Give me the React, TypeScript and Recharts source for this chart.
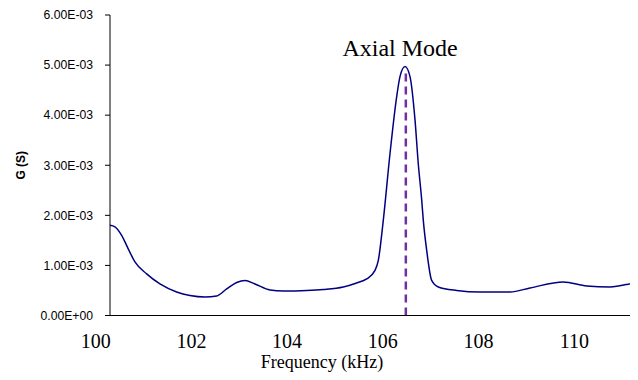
import React from 'react';
import { LineChart, Line, XAxis, YAxis, ReferenceLine, ReferenceDot } from 'recharts';

// Frequency (kHz) samples
const freqs = [
  100.3, 100.403, 100.543, 100.681, 100.821, 101.066, 101.343, 101.692, 101.97, 102.284,
  102.528, 102.737, 102.946, 103.12, 103.328, 103.642, 103.92, 104.409, 104.756, 105.173,
  105.453, 105.662, 105.836, 105.905, 106.009, 106.149, 106.289, 106.358, 106.463,
  106.567, 106.672, 106.74, 106.812, 106.845, 106.916, 107.02, 107.158, 107.543, 108.03,
  108.657, 109.075, 109.77, 110.259, 110.746, 111.095, 111.33,
];
// Conductance G (S)
const conductance = [
  1.8e-3, 1.77e-3, 1.6e-3, 1.33e-3, 1.07e-3, 0.83e-3, 0.63e-3, 0.47e-3, 0.4e-3, 0.37e-3,
  0.39e-3, 0.53e-3, 0.66e-3, 0.7e-3, 0.63e-3, 0.51e-3, 0.49e-3, 0.5e-3, 0.52e-3, 0.57e-3,
  0.65e-3, 0.73e-3, 0.9e-3, 1.1e-3, 1.9e-3, 3.23e-3, 4.37e-3, 4.77e-3, 4.97e-3,
  4.77e-3, 3.9e-3, 3.03e-3, 2.3e-3, 1.9e-3, 1.3e-3, 0.7e-3, 0.57e-3, 0.5e-3, 0.47e-3,
  0.47e-3, 0.55e-3, 0.67e-3, 0.59e-3, 0.57e-3, 0.62e-3, 0.68e-3,
];
const xTicks = [100, 102, 104, 106, 108, 110];
const yTicks = [0, 0.001, 0.002, 0.003, 0.004, 0.005, 0.006];
const modeFreq = 106.48;
const modeTop = 4.9e-3;
const modeLabel = 'Axial Mode';
const modeLabelPos = { f: 106.36, g: 5.342e-3 };

const data = freqs.map((f, i) => ({ f, g: conductance[i] }));

const fmtExp = (v: number) => {
  const [m, e] = v.toExponential(2).split('e');
  const sign = e[0] === '-' ? '-' : '+';
  const digits = e.replace(/[+-]/, '').padStart(2, '0');
  return `${m}E${sign}${digits}`;
};

const serif = '"Liberation Serif", "Times New Roman", serif';
const sans = '"Liberation Sans", Arial, sans-serif';

const YLabel = (props: any) => {
  const vb = props.viewBox;
  const x = vb.x + 13;
  const y = vb.y + vb.height / 2;
  return (
    <text x={x} y={y} transform={`rotate(-90, ${x}, ${y})`} textAnchor="middle" dominantBaseline="central"
      style={{ fontFamily: sans, fontWeight: 'bold', fontSize: 12 }} fill="#000">G (S)</text>
  );
};

const XLabel = (props: any) => {
  const vb = props.viewBox;
  return (
    <text x={vb.x + 212} y={vb.y + 52.5} textAnchor="middle"
      style={{ fontFamily: serif, fontSize: 18 }} fill="#000">
      Frequency (kHz)
    </text>
  );
};

export default function App() {
  return (
    <LineChart width={630} height={364} data={data} margin={{ top: 7, right: 0, left: 0, bottom: 0 }}>
      <XAxis
        dataKey="f"
        type="number"
        domain={[100.3, 111.33]}
        allowDataOverflow
        ticks={xTicks}
        interval={0}
        tickLine={false}
        tickSize={0}
        tickMargin={18}
        height={56.5}
        axisLine={{ stroke: '#000', strokeWidth: 1 }}
        tick={{ fill: '#000', fontSize: 20, fontFamily: serif }}
        label={<XLabel />}
      />
      <YAxis
        type="number"
        domain={[0, 0.006]}
        ticks={yTicks}
        interval={0}
        width={102}
        tickSize={5}
        tickMargin={12}
        tickFormatter={fmtExp}
        axisLine={{ stroke: '#000', strokeWidth: 1 }}
        tickLine={{ stroke: '#000' }}
        tick={{ fill: '#000', fontSize: 12.2, fontFamily: sans }}
        label={<YLabel />}
      />
      <ReferenceLine
        segment={[{ x: modeFreq, y: 0 }, { x: modeFreq, y: modeTop }]}
        stroke="#7030A0"
        strokeWidth={2.5}
        strokeDasharray="8 5"
      />
      <Line
        type="monotone"
        dataKey="g"
        stroke="#000080"
        strokeWidth={1.5}
        dot={false}
        isAnimationActive={false}
      />
      <ReferenceDot
        x={modeLabelPos.f}
        y={modeLabelPos.g}
        r={0}
        fill="none"
        stroke="none"
        label={{ value: modeLabel, position: 'center', fill: '#000', fontSize: 24, fontFamily: serif }}
      />
    </LineChart>
  );
}
